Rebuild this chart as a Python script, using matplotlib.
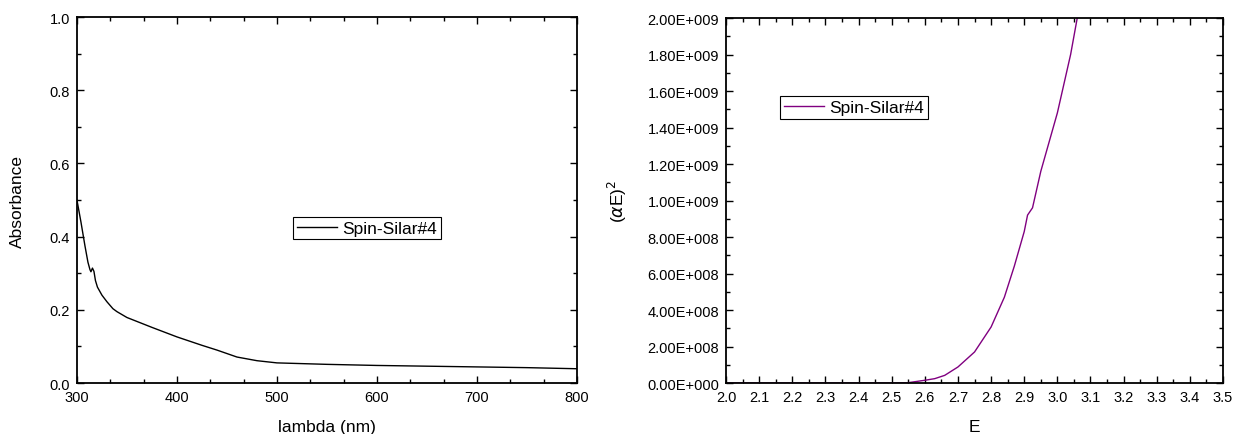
import numpy as np
import matplotlib
matplotlib.use("Agg")
import matplotlib.pyplot as plt
from matplotlib.ticker import MultipleLocator, FuncFormatter, AutoMinorLocator

plt.rcParams['font.family'] = ['Liberation Sans', 'DejaVu Sans']
plt.rcParams['font.size'] = 10.5

# absorbance spectrum
wavelength = [300, 304, 308, 311, 313, 314, 315.5, 317, 318.5, 320.5, 325, 330, 336,
              340, 350, 375, 400, 425, 440, 460, 480, 500, 550, 600, 650, 700, 750, 800]
absorbance = [0.50, 0.44, 0.375, 0.33, 0.31, 0.304, 0.314, 0.305, 0.28, 0.262, 0.24,
              0.222, 0.203, 0.195, 0.179, 0.152, 0.126, 0.103, 0.09, 0.071, 0.061,
              0.055, 0.051, 0.048, 0.046, 0.044, 0.042, 0.039]

# Tauc plot
energy = [2.0, 2.2, 2.4, 2.5, 2.55, 2.6, 2.63, 2.66, 2.7, 2.75, 2.8, 2.84, 2.87, 2.9,
          2.91, 2.925, 2.95, 3.0, 3.04, 3.06, 3.08]
alphaE2 = [0, 0, 0, 0, 2e6, 1.5e7, 2.4e7, 4.2e7, 8.8e7, 1.7e8, 3.07e8, 4.7e8, 6.4e8,
           8.3e8, 9.2e8, 9.6e8, 1.16e9, 1.48e9, 1.8e9, 2.0e9, 2.2e9]

fig = plt.figure(figsize=(12.35, 4.35), dpi=100)
ax1 = fig.add_axes([0.0623, 0.1172, 0.4049, 0.8414])
ax2 = fig.add_axes([0.5879, 0.1172, 0.4024, 0.8391])


def style(ax):
    ax.tick_params(which='both', direction='in', top=True, right=True, width=1)
    ax.tick_params(which='major', length=5, pad=5)
    ax.tick_params(which='minor', length=3)
    for s in ax.spines.values():
        s.set_linewidth(1.3)


def legend(ax, x, y):
    leg = ax.legend(loc='center', bbox_to_anchor=(x, y), fancybox=False,
                    edgecolor='black', framealpha=1, handlelength=2.3,
                    handletextpad=0.35, borderpad=0.22, borderaxespad=0,
                    fontsize=12.5)
    leg.get_frame().set_linewidth(0.8)


ax1.plot(wavelength, absorbance, color='black', lw=1, label='Spin-Silar#4')
ax1.set_xlim(300, 800)
ax1.set_ylim(0, 1.0)
ax1.xaxis.set_major_locator(MultipleLocator(100))
ax1.xaxis.set_minor_locator(AutoMinorLocator(3))
ax1.yaxis.set_major_locator(MultipleLocator(0.2))
ax1.yaxis.set_minor_locator(MultipleLocator(0.1))
ax1.yaxis.set_major_formatter(FuncFormatter(lambda v, p: '%.1f' % v))
ax1.set_xlabel('lambda (nm)', fontsize=12.5, labelpad=11)
ax1.set_ylabel('Absorbance', fontsize=12.5, labelpad=18)
style(ax1)
legend(ax1, 0.58, 0.4235)

ax2.plot(energy, alphaE2, color='#800080', lw=1, label='Spin-Silar#4')
ax2.set_xlim(2.0, 3.5)
ax2.set_ylim(0, 2e9)
ax2.xaxis.set_major_locator(MultipleLocator(0.1))
ax2.xaxis.set_minor_locator(MultipleLocator(0.05))
ax2.yaxis.set_major_locator(MultipleLocator(2e8))
ax2.yaxis.set_minor_locator(MultipleLocator(1e8))
ax2.xaxis.set_major_formatter(FuncFormatter(lambda v, p: '%.1f' % v))


def sci(v, p):
    if v == 0:
        return '0.00E+000'
    e = int(np.floor(np.log10(abs(v)) + 1e-9))
    return '%.2fE+%03d' % (v / 10 ** e, e)


ax2.yaxis.set_major_formatter(FuncFormatter(sci))
ax2.set_xlabel('E', fontsize=12.5, labelpad=11)
ax2.set_ylabel(r'($\alpha$E)$^2$', fontsize=12.5, labelpad=13)
style(ax2)
legend(ax2, 0.2575, 0.755)

fig.savefig('out.png', dpi=100)
